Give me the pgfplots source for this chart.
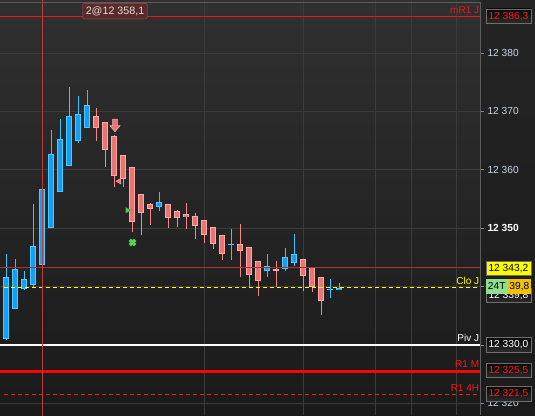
\documentclass[border=0pt]{standalone}
\usepackage{fontspec}
\setmainfont{Liberation Sans}
\usepackage{pgfplots}
\pgfplotsset{compat=1.18}
\usepackage{pgfplotstable}

\definecolor{bgTop}{HTML}{303030}
\definecolor{bgBot}{HTML}{1A1A1A}
\definecolor{panTop}{HTML}{242424}
\definecolor{panBot}{HTML}{1B1B1B}
\definecolor{gridC}{HTML}{3B3B3B}
\definecolor{frameC}{HTML}{5C5C5C}
\definecolor{tickC}{HTML}{8A8A8A}
\definecolor{tickTxt}{HTML}{C6D4E6}
\definecolor{upFill}{HTML}{189EF0}
\definecolor{upB}{HTML}{48CCFF}
\definecolor{upWick}{HTML}{38C4F4}
\definecolor{dnFill}{HTML}{E87474}
\definecolor{dnB}{HTML}{FFA8A8}
\definecolor{dnWick}{HTML}{F08A8A}
\definecolor{crossC}{HTML}{BE3C3C}
\definecolor{mrC}{HTML}{F01414}
\definecolor{darkRed}{HTML}{A83232}
\definecolor{yelC}{HTML}{FFFF00}
\definecolor{lvRed}{HTML}{FF1414}
\definecolor{grn}{HTML}{50D450}
\definecolor{grnD}{HTML}{2C9A2C}
\definecolor{boxTop}{HTML}{080808}
\definecolor{boxBot}{HTML}{2C2C2C}
\definecolor{boxBorder}{HTML}{6E6E6E}
\definecolor{yelBox}{HTML}{FAFA00}
\definecolor{grnBox}{HTML}{8EE08E}
\definecolor{ambBox}{HTML}{F2C00C}
\definecolor{chFill}{HTML}{5A2A2A}
\definecolor{chBorder}{HTML}{7C4444}
\definecolor{chTxt}{HTML}{E6DADA}

% candles: i open high low close
\pgfplotstableread{
i o h l c
1 12331.0 12345.6 12330.9 12341.6
2 12336.2 12344.7 12336.1 12343.0
3 12339.5 12342.7 12339.4 12341.25
4 12340.3 12354.1 12340.0 12346.95
5 12343.65 12361.4 12343.6 12356.7
6 12350.1 12366.8 12350.0 12362.7
7 12356.25 12368.7 12356.2 12365.3
8 12360.7 12374.2 12360.6 12369.2
9 12365.0 12372.7 12364.6 12369.55
10 12367.2 12373.7 12367.1 12371.1
18 12353.7 12356.25 12353.0 12354.4
26 12347.25 12349.9 12344.6 12347.25
30 12342.6 12345.6 12341.7 12343.5
32 12343.0 12346.6 12342.6 12345.0
33 12344.0 12349.0 12343.5 12345.5
37 12339.5 12341.3 12338.0 12339.5
38 12339.4 12340.6 12339.4 12339.8
}\upT

\pgfplotstableread{
i o h l c
11 12369.2 12370.6 12364.9 12367.2
12 12368.1 12368.2 12360.4 12363.3
13 12365.8 12365.9 12357.1 12359.0
14 12362.5 12362.6 12357.1 12358.4
15 12360.4 12360.5 12349.3 12351.1
16 12355.8 12355.9 12348.8 12352.55
17 12354.1 12354.3 12350.55 12353.2
19 12354.1 12354.2 12350.0 12351.7
20 12352.9 12353.1 12350.15 12351.7
21 12352.4 12354.3 12349.8 12351.9
22 12352.0 12352.55 12348.15 12350.4
23 12351.35 12351.4 12347.5 12348.9
24 12350.15 12350.2 12346.5 12347.35
25 12348.8 12348.9 12344.6 12345.6
27 12347.25 12350.7 12341.7 12346.15
28 12346.7 12346.8 12339.7 12341.9
29 12344.3 12344.4 12338.3 12340.9
31 12343.0 12344.4 12340.0 12342.7
34 12344.7 12344.8 12339.2 12341.8
35 12343.3 12343.4 12339.0 12339.9
36 12341.6 12341.7 12335.2 12337.5
}\dnT

\pgfdeclareplotmark{dnarrow}{%
  \pgfpathmoveto{\pgfpoint{-2.4pt}{6.5pt}}%
  \pgfpathlineto{\pgfpoint{2.4pt}{6.5pt}}%
  \pgfpathlineto{\pgfpoint{2.4pt}{0pt}}%
  \pgfpathlineto{\pgfpoint{5pt}{0pt}}%
  \pgfpathlineto{\pgfpoint{0pt}{-6pt}}%
  \pgfpathlineto{\pgfpoint{-5pt}{0pt}}%
  \pgfpathlineto{\pgfpoint{-2.4pt}{0pt}}%
  \pgfpathclose
  \pgfusepathqfillstroke}

\tikzset{
  pbox/.style={anchor=west, inner sep=0pt, line width=0.8pt,
    minimum width=45pt, minimum height=14.5pt,
    font=\fontsize{10.2}{12}\selectfont},
  lvl/.style={anchor=base east, yshift=3.3pt, inner sep=0pt,
    font=\fontsize{10}{12}\selectfont},
}
\pgfplotsset{
  candle/.style n args={2}{draw=none, mark=none, forget plot,
    error bars/.cd, y dir=#1, y explicit, error mark=none,
    error bar style={draw=#2, solid}},
}

\begin{document}
\begin{tikzpicture}
\fill[top color=panTop, bottom color=panBot] (0,0) rectangle (535pt,415pt);

\begin{axis}[
  at={(0,0)}, anchor=south west,
  scale only axis, width=480pt, height=415pt,
  xmin=0.3333, xmax=53.667, ymin=12318.0, ymax=12389.08,
  axis background/.style={top color=bgTop, bottom color=bgBot},
  axis line style={draw=none},
  xtick={23,34,42,46,51}, xticklabels={}, x tick style={draw=none},
  ytick={12320,12330,12340,12350,12360,12370,12380},
  yticklabels={12 320,12 330,12 340,\textcolor{white}{\textbf{12 350}},12 360,12 370,12 380},
  ytick pos=right, yticklabel pos=right,
  tick align=outside, major tick length=4pt,
  y tick style={draw=tickC, line width=0.8pt},
  yticklabel style={anchor=west, text=tickTxt, font=\fontsize{10.2}{12}\selectfont},
  grid=major, grid style={draw=gridC, line width=1pt},
]

% wicks
\addplot[candle={plus}{upWick}, error bar style={line width=1pt}]
  table[x=i, y=l, y error expr={\thisrow{h}-\thisrow{l}}] \upT;
\addplot[candle={plus}{dnWick}, error bar style={line width=1pt}]
  table[x=i, y=l, y error expr={\thisrow{h}-\thisrow{l}}] \dnT;

% bodies: border then fill
\addplot[candle={both}{upB}, error bar style={line width=6pt}]
  table[x=i, y expr={\thisrow{o}+(\thisrow{c}-\thisrow{o})/2},
        y error expr={max(abs(\thisrow{c}-\thisrow{o})/2,0.086)}] \upT;
\addplot[candle={both}{upFill}, error bar style={line width=4pt}]
  table[x=i, y expr={\thisrow{o}+(\thisrow{c}-\thisrow{o})/2},
        y error expr={max(abs(\thisrow{c}-\thisrow{o})/2-0.171,0)}] \upT;
\addplot[candle={both}{dnB}, error bar style={line width=6pt}]
  table[x=i, y expr={\thisrow{o}+(\thisrow{c}-\thisrow{o})/2},
        y error expr={max(abs(\thisrow{c}-\thisrow{o})/2,0.086)}] \dnT;
\addplot[candle={both}{dnFill}, error bar style={line width=4pt}]
  table[x=i, y expr={\thisrow{o}+(\thisrow{c}-\thisrow{o})/2},
        y error expr={max(abs(\thisrow{c}-\thisrow{o})/2-0.171,0)}] \dnT;

% level lines
\addplot[draw=mrC, line width=1pt] coordinates {(0.3,12386.3) (54,12386.3)};
\addplot[draw=darkRed, line width=1pt] coordinates {(0.3,12343.2) (54,12343.2)};
\addplot[draw=yelC, line width=1.3pt, dash pattern=on 4pt off 3pt] coordinates {(0.78,12339.8) (54,12339.8)};
\addplot[draw=white, line width=1.2pt] coordinates {(0.3,12330.0) (54,12330.0)};
\addplot[draw=red, line width=3pt] coordinates {(0.3,12325.5) (54,12325.5)};
\addplot[draw=lvRed, line width=1.3pt, dash pattern=on 4pt off 3pt] coordinates {(0.78,12321.5) (54,12321.5)};

% crosshair
\addplot[draw=crossC, line width=1pt] coordinates {(5,12317) (5,12390)};

% order markers
\addplot[only marks, mark=dnarrow, mark options={fill=dnFill, draw=dnB, line width=0.6pt}]
  coordinates {(13.11,12367.55)};
\addplot[only marks, mark=triangle*, mark size=3.3pt,
  mark options={rotate=90, fill=dnFill, draw=dnB, line width=0.5pt}]
  coordinates {(13.59,12358.05)};
\addplot[only marks, mark=triangle*, mark size=3.3pt,
  mark options={rotate=-90, fill=grn, draw=grnD, line width=0.5pt}]
  coordinates {(14.49,12353.06)};
\addplot[only marks, mark=x, mark size=3.8pt,
  mark options={draw=grn, line width=3.4pt}]
  coordinates {(15.06,12347.55)};

% level names
\node[lvl, text=mrC, yshift=-0.6pt] at (axis cs:53.59,12386.3) {mR1 J};
\node[lvl, text=yelC] at (axis cs:53.59,12339.8) {Clo J};
\node[lvl, text=white] at (axis cs:53.59,12330.0) {Piv J};
\node[lvl, text=lvRed] at (axis cs:53.59,12325.5) {R1 M};
\node[lvl, text=lvRed] at (axis cs:53.59,12321.5) {R1 4H};

\coordinate (b1) at (axis cs:54.28,12386.3);
\coordinate (b2) at (axis cs:54.28,12343.15);
\coordinate (b3) at (axis cs:54.28,12338.5);
\coordinate (b4) at (axis cs:54.28,12340.05);
\coordinate (b5) at (axis cs:54.28,12330.0);
\coordinate (b6) at (axis cs:54.28,12325.6);
\coordinate (b7) at (axis cs:54.28,12321.6);
\coordinate (ch) at (axis cs:13.11,12387.16);
\end{axis}

\draw[frameC, line width=1pt] (0,412.3pt) -- (480.7pt,412.3pt) -- (480.7pt,0);

\node[pbox, draw=boxBorder, top color=boxTop, bottom color=boxBot, text=lvRed] at (b1) {12 386,3};
\node[pbox, draw=boxBorder, fill=yelBox, text=black] at (b2) {12 343,2};
\node[pbox, draw=boxBorder, top color=boxTop, bottom color=boxBot, text=white] at (b3) {12 339,8};
\node[pbox, fill=grnBox, text=black, minimum width=21.6pt, draw=none] at (b4) {24T};
\node[pbox, fill=ambBox, text=black, minimum width=23.7pt, draw=none] at ([xshift=21.6pt]b4) {39,8};
\node[pbox, draw=boxBorder, top color=boxTop, bottom color=boxBot, text=white] at (b5) {12 330,0};
\node[pbox, draw=boxBorder, top color=boxTop, bottom color=boxBot, text=lvRed] at (b6) {12 325,5};
\node[pbox, draw=boxBorder, top color=boxTop, bottom color=boxBot, text=lvRed] at (b7) {12 321,5};

\node[fill=chFill, draw=chBorder, line width=0.8pt, rounded corners=1.5pt, text=chTxt,
  inner sep=0pt, minimum width=64.6pt, minimum height=15.7pt,
  font=\fontsize{10.7}{12}\selectfont] at (ch) {2@12 358,1};

\pgfresetboundingbox
\path[use as bounding box] (0,0) rectangle (535pt,415pt);
\end{tikzpicture}
\end{document}
